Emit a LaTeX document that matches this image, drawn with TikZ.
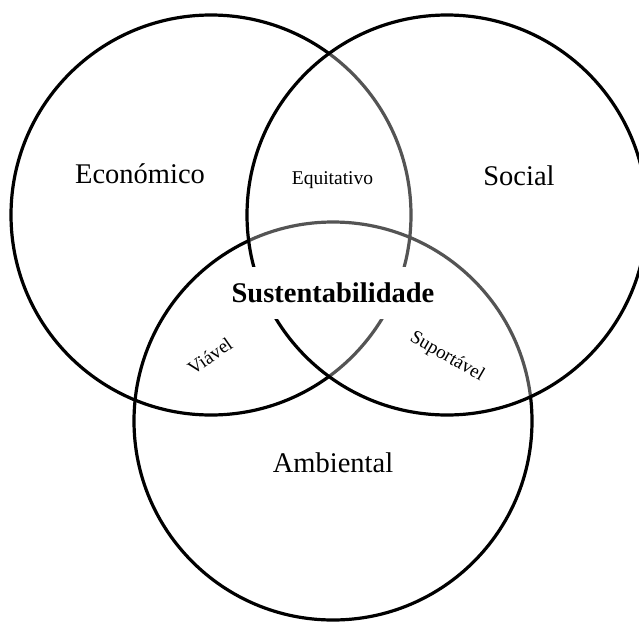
\documentclass[tikz,border=0pt]{standalone}
\usepackage{fontspec}
\setmainfont{Liberation Serif}
\tikzset{
  dim/.style={font=\fontsize{28.5}{30}\selectfont},
  sub/.style={font=\fontsize{19.5}{21}\selectfont},
  tiny/.style={font=\fontsize{19}{20}\selectfont}
}
\begin{document}
\begin{tikzpicture}[x=1pt,y=-1pt,line width=3.2pt]
    \useasboundingbox (0,0) rectangle (639,621);
    \clip (0,0) rectangle (639,621);
    \draw (211,215) circle (200pt);
    \draw (333,421) circle (199pt);
    \draw[fill=white,fill opacity=0.33] (447,215) circle (200pt);
    \node[dim] (eco) at (140,174) {Económico};
    \node[dim] (soc) at (519,176) {Social};
    \node[dim] (amb) at (333,463) {Ambiental};
    \node[sub] (equ) at (332.5,180) {Equitativo};
    \node[tiny,rotate=35] (via) at (210,356) {Viável};
    \node[tiny,rotate=-30] (sup) at (447,357) {Suportável};
    \node[dim,font=\fontsize{28.5}{30}\selectfont\bfseries,fill=white,
      inner xsep=8pt,inner ysep=16pt] (sus) at (333,293) {Sustentabilidade};
  \end{tikzpicture}
\end{document}
